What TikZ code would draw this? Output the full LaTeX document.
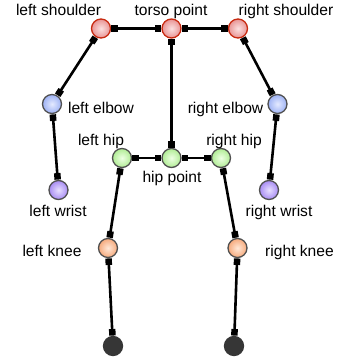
\documentclass[tikz,border=0pt]{standalone}
\usepackage{fontspec}
\setmainfont{Liberation Sans}
\usetikzlibrary{arrows.meta}
\definecolor{redfill}{HTML}{E89494}
\definecolor{redlight}{HTML}{FBE0E0}
\definecolor{redline}{HTML}{C82A10}
\definecolor{bluefill}{HTML}{9EB2F4}
\definecolor{bluelight}{HTML}{E4EAFF}
\definecolor{greenfill}{HTML}{B0EC94}
\definecolor{greenlight}{HTML}{EEFFE4}
\definecolor{purplefill}{HTML}{A88CF4}
\definecolor{purplelight}{HTML}{E8E0FF}
\definecolor{orangefill}{HTML}{F6AA7C}
\definecolor{orangelight}{HTML}{FFE8D8}
\definecolor{darkfill}{HTML}{363636}
\definecolor{rimgray}{HTML}{505050}
\tikzset{
  joint/.style={circle, minimum size=19pt, inner sep=0pt, line width=1.3pt, draw=rimgray},
  redjoint/.style={joint, draw=redline, inner color=redlight, outer color=redfill},
  bluejoint/.style={joint, inner color=bluelight, outer color=bluefill},
  greenjoint/.style={joint, inner color=greenlight, outer color=greenfill},
  purplejoint/.style={joint, inner color=purplelight, outer color=purplefill},
  orangejoint/.style={joint, inner color=orangelight, outer color=orangefill},
  darkjoint/.style={joint, draw=darkfill, fill=darkfill},
  bone/.style={line width=2.6pt, {Square[length=6.5pt,width=6.5pt]}-{Square[length=6.5pt,width=6.5pt]}, shorten <=0.3pt, shorten >=0.3pt},
  lbl/.style={font=\fontsize{15.6}{18}\selectfont, anchor=base, inner sep=0pt}
}
\begin{document}
\begin{tikzpicture}[x=1pt,y=-1pt]
\useasboundingbox (0,0) rectangle (338,364);
% joints
\node[redjoint] (ls) at (101,28.5) {};
\node[redjoint] (tp) at (171.5,28.5) {};
\node[redjoint] (rs) at (238,28.5) {};
\node[bluejoint] (le) at (52,104) {};
\node[bluejoint] (re) at (277.5,104) {};
\node[greenjoint] (lh) at (122,158) {};
\node[greenjoint] (hp) at (171.5,158) {};
\node[greenjoint] (rh) at (221,158) {};
\node[purplejoint] (lw) at (58.5,190) {};
\node[purplejoint] (rw) at (269,190) {};
\node[orangejoint] (lk) at (108,248) {};
\node[orangejoint] (rk) at (237.5,248) {};
\node[darkjoint] (lf) at (113,346) {};
\node[darkjoint] (rf) at (234,346) {};
% bones
\draw[bone] (ls) -- (tp);
\draw[bone] (tp) -- (rs);
\draw[bone] (tp) -- (hp);
\draw[bone] (ls) -- (le);
\draw[bone] (rs) -- (re);
\draw[bone] (le) -- (lw);
\draw[bone] (re) -- (rw);
\draw[bone] (lh) -- (hp);
\draw[bone] (hp) -- (rh);
\draw[bone] (lh) -- (lk);
\draw[bone] (rh) -- (rk);
\draw[bone] (lk) -- (lf);
\draw[bone] (rk) -- (rf);
% labels
\node[lbl] (tls) at (58.5,16) {left shoulder};
\node[lbl] (ttp) at (171,16) {torso point};
\node[lbl] (trs) at (286,16) {right shoulder};
\node[lbl] (tle) at (101,113) {left elbow};
\node[lbl] (tre) at (225.5,113) {right elbow};
\node[lbl] (tlh) at (101,145) {left hip};
\node[lbl] (trh) at (234,145) {right hip};
\node[lbl] (thp) at (172,182) {hip point};
\node[lbl] (tlw) at (58,216.5) {left wrist};
\node[lbl] (trw) at (279,216.5) {right wrist};
\node[lbl] (tlk) at (52,256.5) {left knee};
\node[lbl] (trk) at (299.5,256.5) {right knee};
\end{tikzpicture}
\end{document}
